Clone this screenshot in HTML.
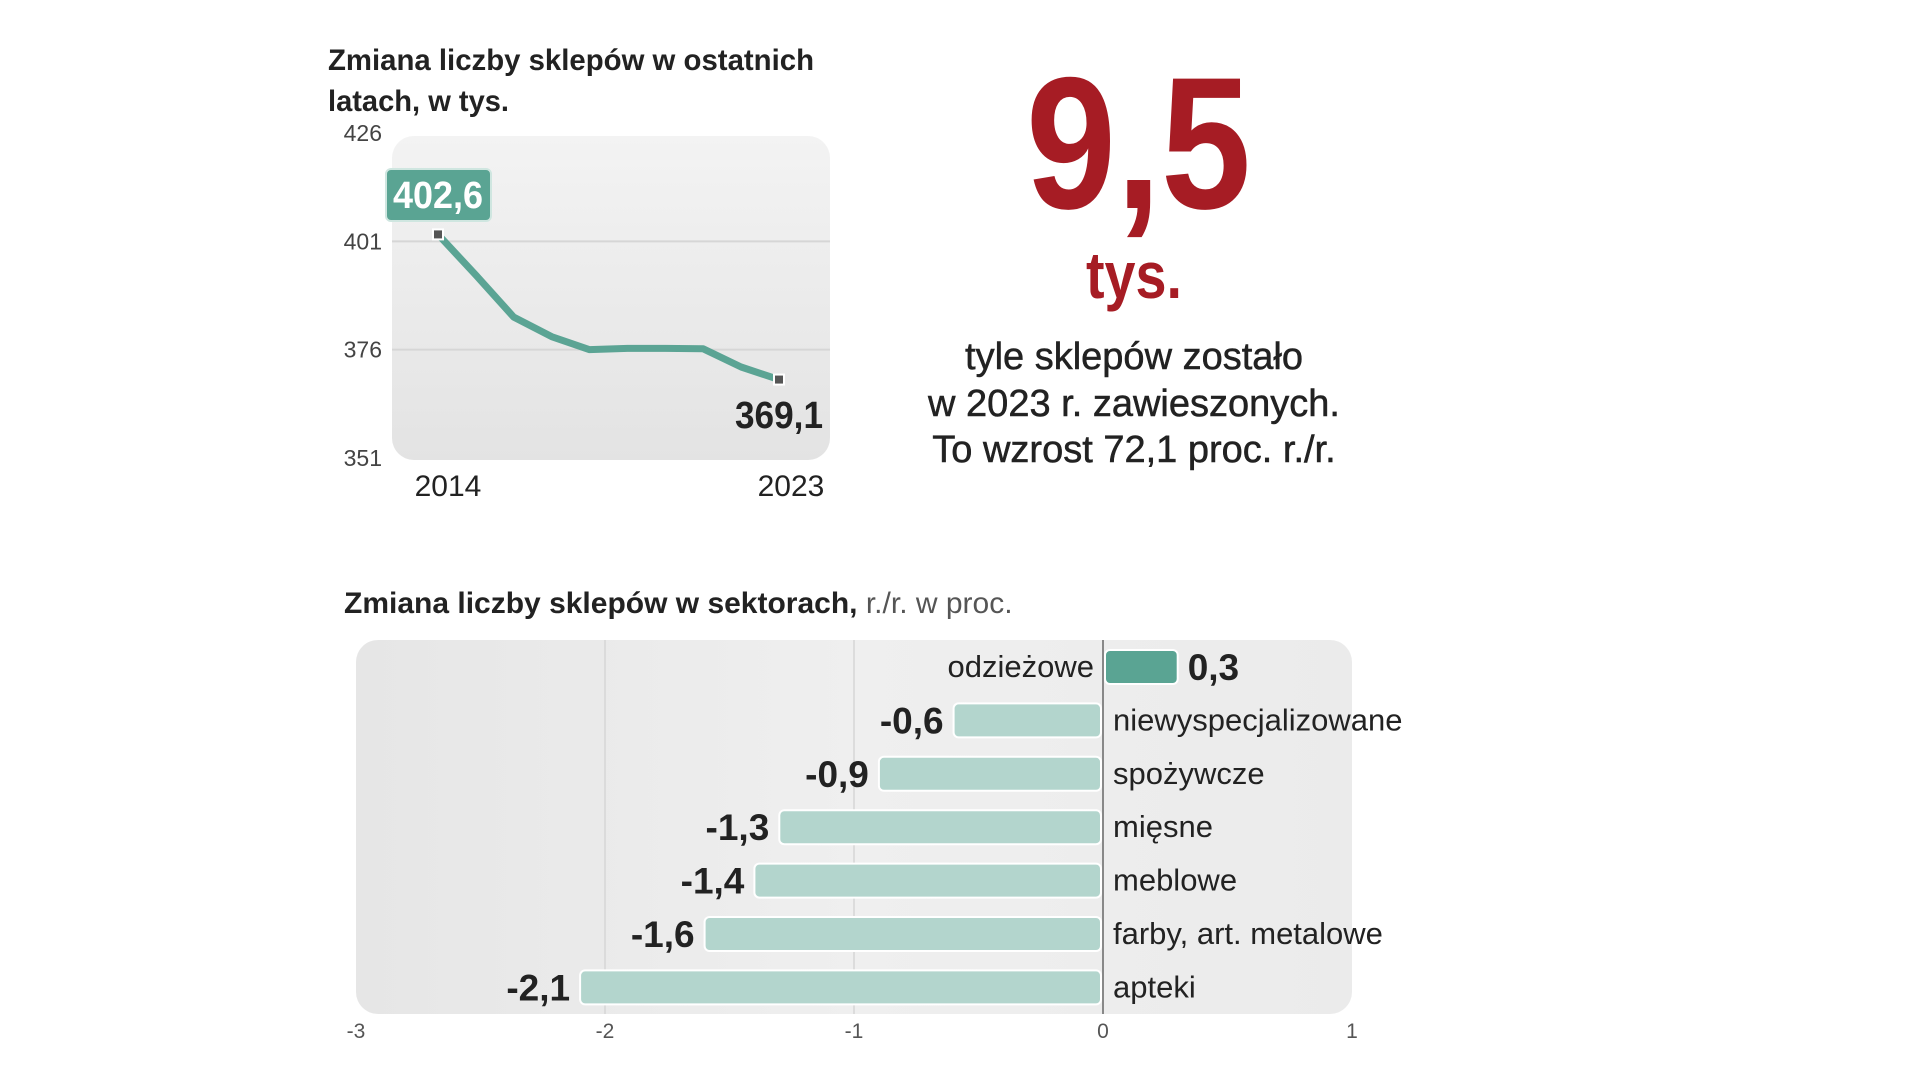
<!DOCTYPE html>
<html><head><meta charset="utf-8">
<style>
html,body{margin:0;padding:0;background:#fff;width:1920px;height:1079px;overflow:hidden}
svg{display:block}
text{font-family:"Liberation Sans Narrow","Liberation Sans",sans-serif}
</style></head>
<body>
<svg id="chart" width="1920" height="1079" viewBox="0 0 1920 1079">
<defs>
<linearGradient id="bg1" x1="0" y1="0" x2="0" y2="1"><stop offset="0" stop-color="#f3f3f3"/><stop offset="1" stop-color="#e3e3e3"/></linearGradient>
<linearGradient id="bg2" x1="0" y1="0" x2="1" y2="0"><stop offset="0" stop-color="#e6e6e6"/><stop offset="0.5" stop-color="#efefef"/><stop offset="1" stop-color="#ebebeb"/></linearGradient>
</defs>
<text x="328" y="70" font-size="30" font-weight="bold" fill="#222" textLength="486" lengthAdjust="spacingAndGlyphs">Zmiana liczby sklepów w ostatnich</text>
<text x="328" y="111" font-size="30" font-weight="bold" fill="#222" textLength="181" lengthAdjust="spacingAndGlyphs">latach, w tys.</text>
<rect x="392" y="136" width="438" height="324" rx="22" fill="url(#bg1)"/>
<g id="lineg"></g>

<text x="1026" y="208" font-size="188" font-weight="bold" fill="#a61c24" textLength="225" lengthAdjust="spacingAndGlyphs">9,5</text>
<text x="1086" y="298" font-size="66" font-weight="bold" fill="#a61c24" textLength="96" lengthAdjust="spacingAndGlyphs">tys.</text>
<g font-size="38" fill="#222" text-anchor="middle" stroke="#222" stroke-width="0.5">
<text x="1134" y="369">tyle sklepów zostało</text>
<text x="1134" y="416">w 2023 r. zawieszonych.</text>
<text x="1134" y="462">To wzrost 72,1 proc. r./r.</text>
</g>

<text x="344" y="613" font-size="30" fill="#222"><tspan font-weight="bold">Zmiana liczby sklepów w  sektorach,</tspan><tspan fill="#555"> r./r. w proc.</tspan></text>
<rect x="356" y="640" width="996" height="374" rx="22" fill="url(#bg2)"/>
<g id="barg"></g>
</svg>
<script>
const years = ["2014","2015","2016","2017","2018","2019","2020","2021","2022","2023"];
const shops = [402.6,393.2,383.5,379,376,376.3,376.3,376.2,372,369.1];
const yTicks = [426,401,376,351];
const categories = ["odzieżowe","niewyspecjalizowane","spożywcze","mięsne","meblowe","farby, art. metalowe","apteki"];
const changes = [0.3,-0.6,-0.9,-1.3,-1.4,-1.6,-2.1];
const changeLabels = ["0,3","-0,6","-0,9","-1,3","-1,4","-1,6","-2,1"];
const xTicks = [-3,-2,-1,0,1];

const NS="http://www.w3.org/2000/svg";
function mk(tag,attrs,parent,txt){const e=document.createElementNS(NS,tag);for(const k in attrs)e.setAttribute(k,attrs[k]);if(txt!=null)e.textContent=txt;parent.appendChild(e);return e;}

// line chart
const lg=document.getElementById('lineg');
const ly=v=>458-(v-351)*(458-133)/75;
const lx=i=>438+i*(779-438)/(years.length-1);
yTicks.forEach(t=>{
  if(t!==426&&t!==351){const g=mk('line',{x1:392,x2:830,y1:ly(t),y2:ly(t),stroke:'#d6d6d6','stroke-width':2},lg);
  
  }
  const tl=mk('text',{x:382,y:ly(t)+8,'font-size':23,fill:'#444','text-anchor':'end','font-family':'Liberation Sans, sans-serif'},lg,String(t));
  
  
});
const pts=shops.map((v,i)=>lx(i)+','+ly(v)).join(' ');
const pl=mk('polyline',{points:pts,fill:'none',stroke:'#5ba494','stroke-width':7,'stroke-linejoin':'round'},lg);


[0,shops.length-1].forEach(i=>{
  const m=mk('rect',{x:lx(i)-5,y:ly(shops[i])-5,width:10,height:10,fill:'#555',stroke:'#fff','stroke-width':2},lg);
  
  
});
const fb=mk('rect',{x:386,y:169,width:105,height:52,rx:5,fill:'#5aa493',stroke:'#cfe6e0','stroke-width':2},lg);


const ft=mk('text',{x:393,y:208,'font-size':38,'font-weight':'bold',fill:'#fff',textLength:90,lengthAdjust:'spacingAndGlyphs'},lg,String(shops[0]).replace('.',','));


const lt=mk('text',{x:735,y:428,'font-size':38,'font-weight':'bold',fill:'#222',textLength:88,lengthAdjust:'spacingAndGlyphs'},lg,String(shops[shops.length-1]).replace('.',','));


[[0,448],[years.length-1,791]].forEach(([i,x])=>{
  const t=mk('text',{x:x,y:496,'font-size':30,fill:'#222','text-anchor':'middle','font-family':'Liberation Sans, sans-serif'},lg,years[i]);
  
  
});

// bar chart
const bg=document.getElementById('barg');
const bx=v=>1103+v*249;
const rowY=i=>667+i*53.4;
[-2,-1].forEach(t=>{
  const g=mk('line',{x1:bx(t),x2:bx(t),y1:640,y2:1014,stroke:'#d6d6d6','stroke-width':1.5},bg);
  
  
});
xTicks.forEach(t=>{
  const tl=mk('text',{x:bx(t),y:1038,'font-size':21,fill:'#555','text-anchor':'middle'},bg,String(t));
  
  
});
changes.forEach((v,i)=>{
  const y=rowY(i),h=34;
  const x0=Math.min(bx(0),bx(v)),w=Math.abs(bx(v)-bx(0));
  const r=mk('rect',{x:x0+(v<0?0:2),y:y-h/2,width:w-2,height:h,rx:5,fill:v>0?'#5aa493':'#b3d5cd',stroke:'#fff','stroke-width':2},bg);
  
  
  const vl=mk('text',{x:v>0?bx(v)+10:bx(v)-10,y:y+13,'font-size':37,'font-weight':'bold',fill:'#222','text-anchor':v>0?'start':'end'},bg,changeLabels[i]);
  
  
  const cl=mk('text',{x:v>0?bx(0)-9:bx(0)+10,y:y+10,'font-size':31,fill:'#222','text-anchor':v>0?'end':'start'},bg,categories[i]);
  
  
});
const zl=mk('line',{x1:bx(0),x2:bx(0),y1:640,y2:1014,stroke:'#888','stroke-width':2},bg);


</script>
</body></html>
